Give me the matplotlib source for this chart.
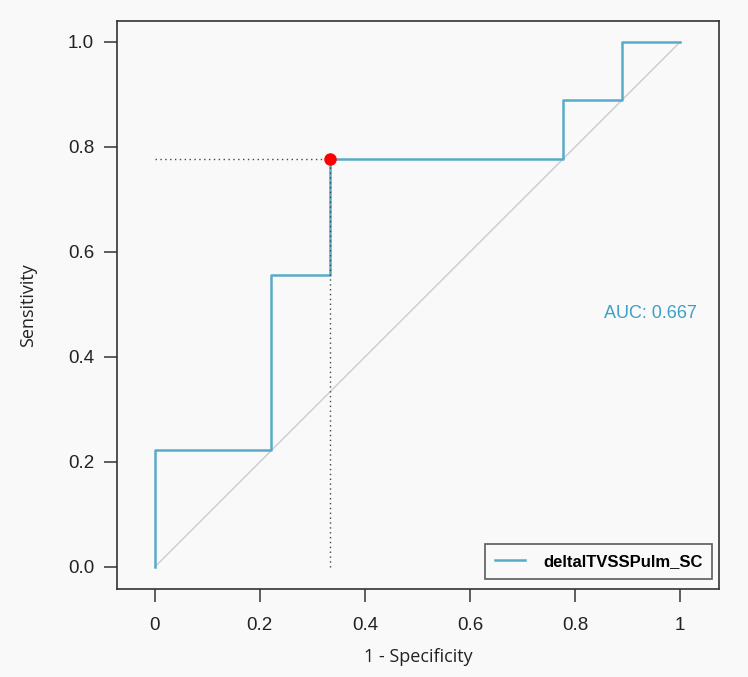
import matplotlib
matplotlib.use("Agg")
import matplotlib.pyplot as plt

# ROC curve (1 - specificity, sensitivity)
fpr = [0.0, 0.0, 0.222, 0.222, 0.333, 0.333, 0.778, 0.778, 0.889, 0.889, 1.0]
tpr = [0.0, 0.222, 0.222, 0.556, 0.556, 0.778, 0.778, 0.889, 0.889, 1.0, 1.0]
best_fpr = 0.333
best_tpr = 0.778
auc = 0.667
series_name = "deltalTVSSPulm_SC"

x_ticks = [0, 0.2, 0.4, 0.6, 0.8, 1]
x_labels = ["0", "0.2", "0.4", "0.6", "0.8", "1"]
y_ticks = [0.0, 0.2, 0.4, 0.6, 0.8, 1.0]
y_labels = ["0.0", "0.2", "0.4", "0.6", "0.8", "1.0"]

curve_color = "#58abc8"
bg = "#f9f9f9"

fig = plt.figure(figsize=(7.48, 6.77), dpi=100, facecolor=bg)
ax = fig.add_axes([0.1564, 0.13, 0.8048, 0.839], facecolor=bg)

ax.plot([0, 1], [0, 1], color="#cccccc", linewidth=1.0, zorder=1)
(roc_line,) = ax.plot(fpr, tpr, color=curve_color, linewidth=1.8, zorder=2)
ax.plot([0, best_fpr], [best_tpr, best_tpr], color="#444444", linestyle=(0, (1, 2.5)),
        linewidth=1.0, zorder=3)
ax.plot([best_fpr, best_fpr], [0, best_tpr], color="#444444", linestyle=(0, (1, 2.5)),
        linewidth=1.0, zorder=3)
ax.plot([best_fpr], [best_tpr], "o", color="#ff0000", markersize=8, zorder=4)

ax.text(0.943, 0.483, f"AUC: {auc:.3f}", color="#3f9fc2", fontsize=13,
        ha="center", va="center", family="Liberation Sans")

ax.set_xlim(-0.072, 1.074)
ax.set_ylim(-0.042, 1.04)
ax.set_xticks(x_ticks, x_labels)
ax.set_yticks(y_ticks, y_labels)
for s in ax.spines.values():
    s.set_color("#333333")
    s.set_linewidth(1.2)
ax.tick_params(direction="out", length=9.5, width=1.1, color="#333333",
               labelsize=13.5, labelcolor="#222222")
ax.tick_params(axis="x", pad=11)
ax.tick_params(axis="y", pad=7)
for lab in ax.get_xticklabels() + ax.get_yticklabels():
    lab.set_family("Liberation Sans")

ax.set_xlabel("1 - Specificity", fontsize=13, family="Open Sans", color="#222222", labelpad=10)
ax.set_ylabel("Sensitivity", fontsize=13, family="Open Sans", color="#222222", labelpad=22)

leg = ax.legend([roc_line], [series_name], loc="lower right", bbox_to_anchor=(0.989, 0.018),
                borderaxespad=0, frameon=True, fancybox=False, handlelength=1.75,
                handletextpad=1.1, borderpad=0.6,
                prop={"family": "Liberation Sans", "weight": "bold", "size": 12})
leg.get_frame().set_edgecolor("#333333")
leg.get_frame().set_facecolor(bg)
leg.get_frame().set_linewidth(1.2)

fig.savefig("out.png", dpi=100, facecolor=bg)
